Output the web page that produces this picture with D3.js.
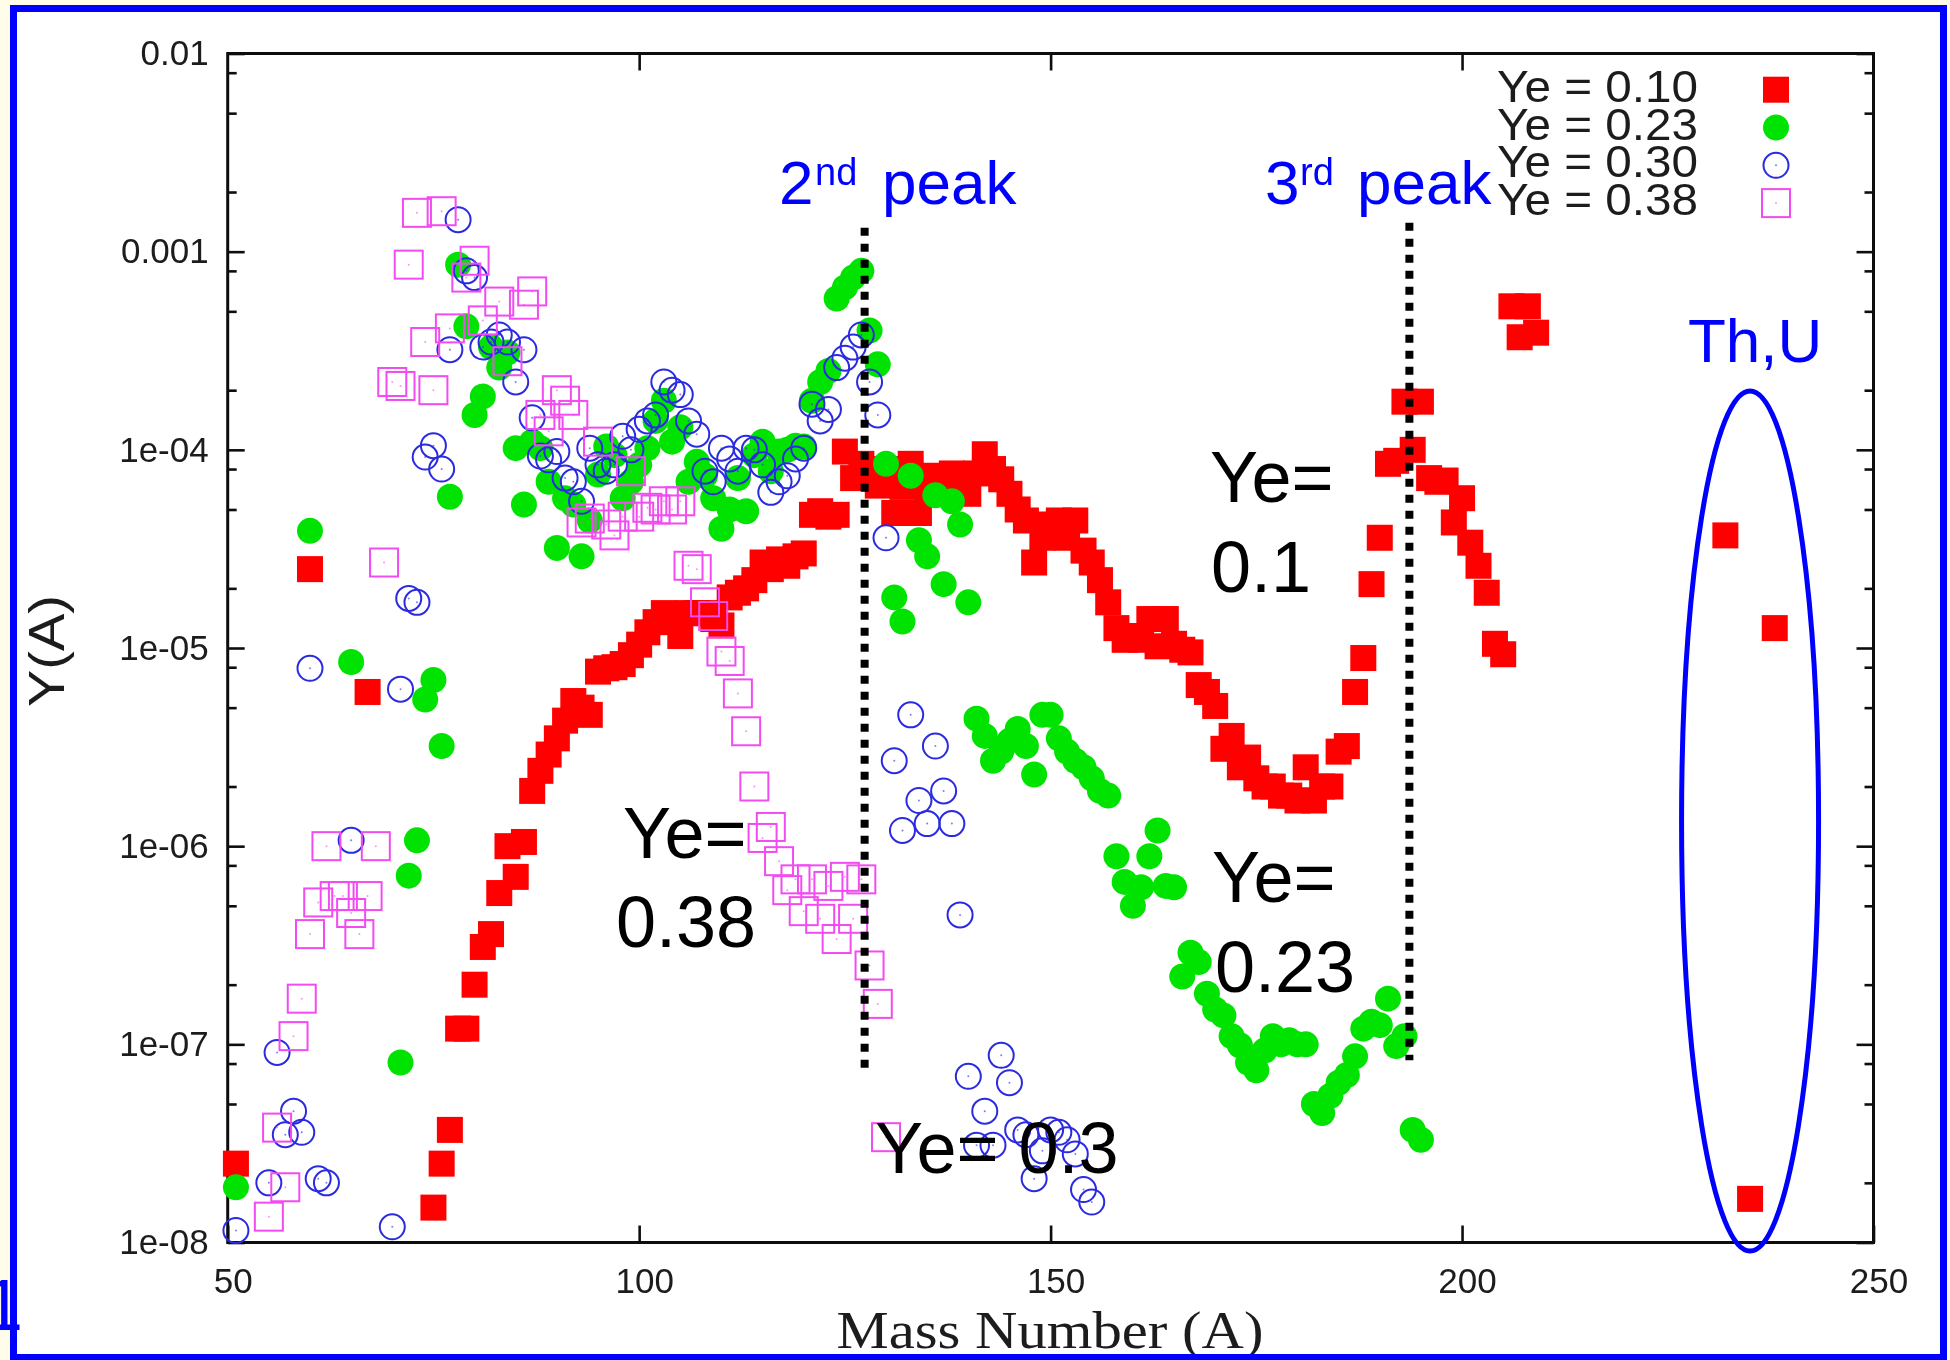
<!DOCTYPE html>
<html>
<head>
<meta charset="utf-8">
<script src="https://cdn.jsdelivr.net/npm/d3@7"></script>
<style>
  html, body { margin: 0; padding: 0; background: #fffde9; }
  svg { display: block; }
</style>
</head>
<body>
<svg id="chart" width="1950" height="1360"></svg>
<script>
// Abundance Y(A) against mass number A, one array per electron fraction Ye.
const ye010 = [[51,2.5e-8],[60,2.5e-5],[67,6.0e-6],[75,1.5e-8],[76,2.5e-8],[77,3.7e-8],[78,1.2e-7],[79,1.2e-7],[80,2.0e-7],[81,3.1e-7],[82,3.6e-7],[83,5.8e-7],[84,1.0e-6],[85,7.0e-7],[86,1.05e-6],[87,1.9e-6],[88,2.4e-6],[89,2.9e-6],[90,3.5e-6],[91,4.3e-6],[92,5.4e-6],[93,5.0e-6],[94,4.6e-6],[95,7.6e-6],[96,7.9e-6],[97,8.0e-6],[98,8.3e-6],[99,9.2e-6],[100,1.04e-5],[101,1.2e-5],[102,1.35e-5],[103,1.5e-5],[104,1.4e-5],[105,1.15e-5],[106,1.5e-5],[107,1.5e-5],[108,1.5e-5],[109,1.4e-5],[110,1.3e-5],[111,1.8e-5],[112,1.9e-5],[113,2.0e-5],[114,2.2e-5],[115,2.7e-5],[116,2.5e-5],[117,2.8e-5],[118,2.6e-5],[119,2.9e-5],[120,3.0e-5],[121,4.7e-5],[122,4.9e-5],[123,4.6e-5],[124,4.7e-5],[125,9.8e-5],[126,7.2e-5],[127,8.5e-5],[128,7.5e-5],[129,6.6e-5],[130,8.0e-5],[131,4.8e-5],[132,6.5e-5],[133,8.5e-5],[134,4.8e-5],[135,6.0e-5],[136,7.4e-5],[137,7.0e-5],[138,7.6e-5],[139,7.4e-5],[140,6.0e-5],[141,7.6e-5],[142,9.5e-5],[143,8.0e-5],[144,7.1e-5],[145,6.0e-5],[146,5.0e-5],[147,4.4e-5],[148,2.7e-5],[149,3.6e-5],[150,4.2e-5],[151,4.4e-5],[152,3.6e-5],[153,4.4e-5],[154,3.1e-5],[155,2.7e-5],[156,2.2e-5],[157,1.7e-5],[158,1.26e-5],[159,1.1e-5],[160,1.15e-5],[161,1.1e-5],[162,1.4e-5],[163,1.02e-5],[164,1.4e-5],[165,1.05e-5],[166,9.8e-6],[167,9.5e-6],[168,6.5e-6],[169,6.0e-6],[170,5.1e-6],[171,3.1e-6],[172,3.6e-6],[173,2.5e-6],[174,2.8e-6],[175,2.2e-6],[176,2.0e-6],[177,2.0e-6],[178,1.8e-6],[179,1.8e-6],[180,1.7e-6],[181,2.5e-6],[182,1.7e-6],[183,2.0e-6],[184,2.0e-6],[185,3.0e-6],[186,3.2e-6],[187,6.0e-6],[188,8.9e-6],[189,2.1e-5],[190,3.6e-5],[191,8.5e-5],[192,8.8e-5],[193,1.75e-4],[194,1.0e-4],[195,1.75e-4],[196,7.2e-5],[197,6.9e-5],[198,7.0e-5],[199,4.3e-5],[200,5.7e-5],[201,3.4e-5],[202,2.6e-5],[203,1.9e-5],[204,1.05e-5],[205,9.3e-6],[206,5.3e-4],[207,3.7e-4],[208,5.3e-4],[209,3.9e-4],[232,3.7e-5],[235,1.66e-8],[238,1.26e-5]];

const ye023 = [[51,1.9e-8],[60,3.9e-5],[65,8.5e-6],[71,8.1e-8],[72,7.1e-7],[73,1.07e-6],[74,5.5e-6],[75,6.9e-6],[76,3.2e-6],[77,5.8e-5],[78,8.6e-4],[79,4.2e-4],[80,1.5e-4],[81,1.86e-4],[82,3.3e-4],[83,2.6e-4],[84,3.1e-4],[85,1.02e-4],[86,5.3e-5],[87,1.1e-4],[88,1.02e-4],[89,6.9e-5],[90,3.2e-5],[91,5.7e-5],[92,5.3e-5],[93,2.9e-5],[94,4.4e-5],[95,7.5e-5],[96,1.04e-4],[97,9.4e-5],[98,5.7e-5],[99,6.9e-5],[100,8.4e-5],[101,1.02e-4],[102,1.4e-4],[103,1.77e-4],[104,1.1e-4],[105,1.3e-4],[106,6.9e-5],[107,8.7e-5],[108,7.4e-5],[109,5.7e-5],[110,4.0e-5],[111,5.0e-5],[112,7.2e-5],[113,4.9e-5],[114,9.4e-5],[115,1.1e-4],[116,7.8e-5],[117,9.8e-5],[118,1.0e-4],[119,1.05e-4],[120,1.04e-4],[121,1.77e-4],[122,2.2e-4],[123,2.5e-4],[124,5.8e-4],[125,6.6e-4],[126,7.4e-4],[127,8.0e-4],[128,4.0e-4],[129,2.7e-4],[130,8.5e-5],[131,1.8e-5],[132,1.36e-5],[133,7.4e-5],[134,3.5e-5],[135,2.9e-5],[136,5.9e-5],[137,2.1e-5],[138,5.5e-5],[139,4.2e-5],[140,1.7e-5],[141,4.4e-6],[142,3.6e-6],[143,2.7e-6],[144,3.0e-6],[145,3.4e-6],[146,3.9e-6],[147,3.2e-6],[148,2.3e-6],[149,4.6e-6],[150,4.6e-6],[151,3.5e-6],[152,3.0e-6],[153,2.7e-6],[154,2.5e-6],[155,2.2e-6],[156,1.9e-6],[157,1.8e-6],[158,8.9e-7],[159,6.6e-7],[160,5.0e-7],[161,6.2e-7],[162,8.9e-7],[163,1.2e-6],[164,6.3e-7],[165,6.2e-7],[166,2.2e-7],[167,2.9e-7],[168,2.6e-7],[169,1.8e-7],[170,1.5e-7],[171,1.4e-7],[172,1.1e-7],[173,9.9e-8],[174,8.1e-8],[175,7.4e-8],[176,9.3e-8],[177,1.1e-7],[178,1.0e-7],[179,1.05e-7],[180,1.0e-7],[181,1.0e-7],[182,5.0e-8],[183,4.5e-8],[184,5.5e-8],[185,6.4e-8],[186,7.0e-8],[187,8.7e-8],[188,1.2e-7],[189,1.3e-7],[190,1.25e-7],[191,1.7e-7],[192,9.8e-8],[193,1.1e-7],[194,3.7e-8],[195,3.3e-8]];

const ye030 = [[51,1.15e-8],[55,2.0e-8],[56,9.1e-8],[57,3.5e-8],[58,4.6e-8],[59,3.6e-8],[60,7.9e-6],[61,2.1e-8],[62,2.0e-8],[65,1.07e-6],[70,1.2e-8],[71,6.2e-6],[72,1.78e-5],[73,1.7e-5],[74,9.2e-5],[75,1.05e-4],[76,8.0e-5],[77,3.2e-4],[78,1.45e-3],[79,8.0e-4],[80,7.4e-4],[81,3.3e-4],[82,3.5e-4],[83,3.8e-4],[84,3.5e-4],[85,2.2e-4],[86,3.2e-4],[87,1.45e-4],[88,9.3e-5],[89,8.9e-5],[90,9.8e-5],[91,7.2e-5],[92,6.9e-5],[93,5.5e-5],[94,1.02e-4],[95,8.4e-5],[96,7.8e-5],[97,8.4e-5],[98,1.17e-4],[99,1.0e-4],[100,1.27e-4],[101,1.4e-4],[102,1.5e-4],[103,2.2e-4],[104,2.0e-4],[105,1.9e-4],[106,1.4e-4],[107,1.2e-4],[108,7.8e-5],[109,6.9e-5],[110,1.02e-4],[111,9.0e-5],[112,7.8e-5],[113,1.02e-4],[114,1.0e-4],[115,8.4e-5],[116,6.1e-5],[117,6.9e-5],[118,7.4e-5],[119,9.0e-5],[120,1.02e-4],[121,1.7e-4],[122,1.4e-4],[123,1.6e-4],[124,2.6e-4],[125,2.9e-4],[126,3.3e-4],[127,3.8e-4],[128,2.2e-4],[129,1.5e-4],[130,3.6e-5],[131,2.7e-6],[132,1.2e-6],[133,4.6e-6],[134,1.7e-6],[135,1.3e-6],[136,3.2e-6],[137,1.9e-6],[138,1.3e-6],[139,4.5e-7],[140,6.9e-8],[141,3.1e-8],[142,4.6e-8],[143,3.1e-8],[144,8.8e-8],[145,6.4e-8],[146,3.7e-8],[147,3.5e-8],[148,2.1e-8],[149,2.9e-8],[150,3.7e-8],[151,3.6e-8],[152,3.3e-8],[153,2.8e-8],[154,1.85e-8],[155,1.6e-8]];

const ye038 = [[55,1.35e-8],[56,3.8e-8],[57,1.9e-8],[58,1.1e-7],[59,1.7e-7],[60,3.6e-7],[61,5.2e-7],[62,1.0e-6],[63,5.6e-7],[64,5.6e-7],[65,4.6e-7],[66,3.6e-7],[67,5.6e-7],[68,1.0e-6],[69,2.7e-5],[70,2.2e-4],[71,2.1e-4],[72,8.6e-4],[73,1.57e-3],[74,3.5e-4],[75,2.0e-4],[76,1.6e-3],[77,4.1e-4],[79,7.4e-4],[80,9.0e-4],[81,4.5e-4],[83,5.6e-4],[84,2.8e-4],[86,5.4e-4],[87,6.3e-4],[88,1.5e-4],[89,1.24e-4],[90,2.0e-4],[91,1.77e-4],[92,1.5e-4],[93,4.3e-5],[94,4.5e-5],[95,1.1e-4],[96,4.2e-5],[97,3.7e-5],[98,4.6e-5],[99,7.8e-5],[100,4.6e-5],[101,5.1e-5],[102,5.0e-5],[103,5.5e-5],[104,5.0e-5],[105,5.5e-5],[106,2.6e-5],[107,2.5e-5],[108,1.7e-5],[109,1.45e-5],[110,9.6e-6],[111,8.6e-6],[112,5.9e-6],[113,3.8e-6],[114,2.0e-6],[115,1.1e-6],[116,1.25e-6],[117,8.4e-7],[118,6.0e-7],[119,6.8e-7],[120,4.7e-7],[121,6.8e-7],[122,4.3e-7],[123,6.3e-7],[124,3.4e-7],[125,7.0e-7],[126,4.3e-7],[127,6.8e-7],[128,2.5e-7],[129,1.6e-7],[130,3.4e-8]];

const legendLabels = ["Ye = 0.10", "Ye = 0.23", "Ye = 0.30", "Ye = 0.38"];

const xTickValues = [50, 100, 150, 200, 250];
const yTickValues = [1e-8, 1e-7, 1e-6, 1e-5, 1e-4, 1e-3, 1e-2];
const yTickLabels = ["1e-08", "1e-07", "1e-06", "1e-05", "1e-04", "0.001", "0.01"];
const yMinorValues = [2e-8, 5e-8, 8e-8, 2e-7, 5e-7, 8e-7, 2e-6, 5e-6, 8e-6, 2e-5, 5e-5, 8e-5, 2e-4, 5e-4, 8e-4, 2e-3, 5e-3, 8e-3];

// Magic-number peaks (mass number, extent of the marker line in Y)
const peakLines = [
  { A: 127.4, top: 1.32e-3, bottom: 7.5e-8 },
  { A: 193.6, top: 1.40e-3, bottom: 8.3e-8 }
];

const W = 1950, H = 1360;
const svg = d3.select("#chart");
const x = d3.scaleLinear().domain([50, 250]).range([227.7, 1873.5]);
const y = d3.scaleLog().domain([1e-8, 1e-2]).range([1242.5, 53.5]);

const sans = "'Liberation Sans', Arial, Helvetica, sans-serif";

const defs = svg.append("defs");
defs.append("filter").attr("id", "soft")
  .attr("filterUnits", "userSpaceOnUse")
  .attr("x", 0).attr("y", 0).attr("width", W).attr("height", H)
  .append("feGaussianBlur").attr("stdDeviation", 0.75);

// slide background and white page
svg.append("rect").attr("width", W).attr("height", H).attr("fill", "#fffde9");
svg.append("rect").attr("x", 13.5).attr("y", 8.5).attr("width", 1930).attr("height", 1349).attr("fill", "#ffffff");

const plot = svg.append("g").attr("filter", "url(#soft)");

// ---- axes ----
function styleAxis(g) {
  g.select(".domain").remove();
  g.selectAll(".tick line").attr("stroke", "#111").attr("stroke-width", 2.6);
  g.selectAll(".tick text").attr("fill", "#1c1c1c").attr("font-family", sans).attr("font-size", 35);
}

const labelMap = new Map(yTickValues.map((v, i) => [v, yTickLabels[i]]));

plot.append("g").attr("transform", `translate(${x.range()[0]},0)`)
  .call(d3.axisLeft(y).tickValues(yTickValues).tickFormat(d => labelMap.get(d))
    .tickSizeInner(-17).tickSizeOuter(0).tickPadding(19))
  .call(styleAxis);
plot.append("g").attr("transform", `translate(${x.range()[0]},0)`)
  .call(d3.axisLeft(y).tickValues(yMinorValues).tickFormat("").tickSizeInner(-9).tickSizeOuter(0))
  .call(styleAxis);
plot.append("g").attr("transform", `translate(${x.range()[1]},0)`)
  .call(d3.axisRight(y).tickValues(yTickValues).tickFormat("").tickSizeInner(-17).tickSizeOuter(0))
  .call(styleAxis);
plot.append("g").attr("transform", `translate(${x.range()[1]},0)`)
  .call(d3.axisRight(y).tickValues(yMinorValues).tickFormat("").tickSizeInner(-9).tickSizeOuter(0))
  .call(styleAxis);

const xAxisG = plot.append("g").attr("transform", `translate(0,${y.range()[0]})`)
  .call(d3.axisBottom(x).tickValues(xTickValues).tickFormat(d3.format("d"))
    .tickSizeInner(-17).tickSizeOuter(0).tickPadding(26))
  .call(styleAxis);
xAxisG.selectAll(".tick text").attr("dx", 5);

plot.append("g").attr("transform", `translate(0,${y.range()[1]})`)
  .call(d3.axisTop(x).tickValues([100, 150, 200]).tickFormat("").tickSizeInner(-17).tickSizeOuter(0))
  .call(styleAxis);

// plot frame
plot.append("rect")
  .attr("x", x.range()[0]).attr("y", y.range()[1])
  .attr("width", x.range()[1] - x.range()[0]).attr("height", y.range()[0] - y.range()[1])
  .attr("fill", "none").attr("stroke", "#111").attr("stroke-width", 3);

// axis titles
plot.append("text")
  .attr("transform", "translate(64,651) rotate(-90)")
  .attr("text-anchor", "middle")
  .attr("font-family", sans).attr("font-size", 50).attr("fill", "#1c1c1c")
  .attr("textLength", 112).attr("lengthAdjust", "spacingAndGlyphs")
  .text("Y(A)");

plot.append("text")
  .attr("x", 1050).attr("y", 1348)
  .attr("text-anchor", "middle")
  .attr("font-family", "'Liberation Serif', 'Times New Roman', serif")
  .attr("font-size", 53).attr("fill", "#1c1c1c")
  .attr("textLength", 427).attr("lengthAdjust", "spacingAndGlyphs")
  .text("Mass Number (A)");

// ---- markers ----
const markers = [
  { data: ye010, kind: "square", fill: "#ff0000", stroke: "none", size: 26 },
  { data: ye023, kind: "circle", fill: "#00e300", stroke: "none", size: 26 },
  { data: ye030, kind: "circle", fill: "none", stroke: "#2a2ae0", size: 27 },
  { data: ye038, kind: "square", fill: "none", stroke: "#f24cf2", size: 28 }
];

function drawMarker(sel, m) {
  if (m.kind === "square") {
    sel.append("rect")
      .attr("x", -m.size / 2).attr("y", -m.size / 2)
      .attr("width", m.size).attr("height", m.size)
      .attr("fill", m.fill).attr("stroke", m.stroke).attr("stroke-width", 2);
  } else {
    sel.append("circle").attr("r", m.fill === "none" ? m.size / 2 - 1 : m.size / 2)
      .attr("fill", m.fill).attr("stroke", m.stroke).attr("stroke-width", 2);
  }
  if (m.fill === "none") {
    sel.append("circle").attr("r", 1).attr("fill", m.stroke).attr("opacity", 0.6);
  }
}

markers.forEach(m => {
  plot.append("g").selectAll("g").data(m.data).join("g")
    .attr("transform", d => `translate(${x(d[0])},${y(d[1])})`)
    .each(function () { drawMarker(d3.select(this), m); });
});

// ---- legend ----
const legend = plot.append("g");
legendLabels.forEach((lab, i) => {
  const base = 101.7 + 37.8 * i;
  legend.append("text")
    .attr("x", 1698).attr("y", base)
    .attr("text-anchor", "end")
    .attr("font-family", sans).attr("font-size", 44).attr("fill", "#1c1c1c")
    .attr("textLength", 201).attr("lengthAdjust", "spacingAndGlyphs")
    .text(lab);
  const g = legend.append("g").attr("transform", `translate(1776,${base - 12})`);
  drawMarker(g, markers[i]);
});

// ---- annotations ----
const notes = svg.append("g");

notes.selectAll("line.peak").data(peakLines).join("line")
  .attr("class", "peak")
  .attr("x1", d => x(d.A)).attr("x2", d => x(d.A))
  .attr("y1", d => y(d.top)).attr("y2", d => y(d.bottom))
  .attr("stroke", "#000").attr("stroke-width", 8).attr("stroke-dasharray", "8 8");

function peakLabel(px, num, sup, supX, wordX) {
  const t = notes.append("g").attr("fill", "#0000ff").attr("font-family", sans);
  t.append("text").attr("x", px).attr("y", 204).attr("font-size", 62).text(num);
  t.append("text").attr("x", supX).attr("y", 185).attr("font-size", 38).text(sup);
  t.append("text").attr("x", wordX).attr("y", 204).attr("font-size", 62).text("peak");
}
peakLabel(779, "2", "nd", 815, 882);
peakLabel(1265, "3", "rd", 1300, 1357);

notes.append("text").attr("x", 1688).attr("y", 362)
  .attr("font-family", sans).attr("font-size", 62).attr("fill", "#0000ff")
  .text("Th,U");

notes.append("ellipse")
  .attr("cx", x(235)).attr("cy", 821).attr("rx", 68.5).attr("ry", 430)
  .attr("fill", "none").attr("stroke", "#0000ff").attr("stroke-width", 5);

const blackLabels = [
  { t: "Ye=", x: 1210, y: 502 }, { t: "0.1", x: 1211, y: 592 },
  { t: "Ye=", x: 623, y: 858 }, { t: "0.38", x: 616, y: 947 },
  { t: "Ye=", x: 1212, y: 902 }, { t: "0.23", x: 1215, y: 992 },
  { t: "Ye= 0.3", x: 875, y: 1173 }
];
notes.selectAll("text.ye").data(blackLabels).join("text")
  .attr("class", "ye")
  .attr("x", d => d.x).attr("y", d => d.y)
  .attr("font-family", sans).attr("font-size", 72).attr("fill", "#000")
  .attr("xml:space", "preserve")
  .text(d => d.t);

// slide frame and page number
svg.append("rect").attr("x", 13.5).attr("y", 8.5).attr("width", 1930).attr("height", 1349)
  .attr("fill", "none").attr("stroke", "#0000ff").attr("stroke-width", 7);
svg.append("text").attr("x", -17).attr("y", 1330)
  .attr("font-family", sans).attr("font-size", 72).attr("fill", "#0000ff")
  .text("1");
</script>
</body>
</html>
